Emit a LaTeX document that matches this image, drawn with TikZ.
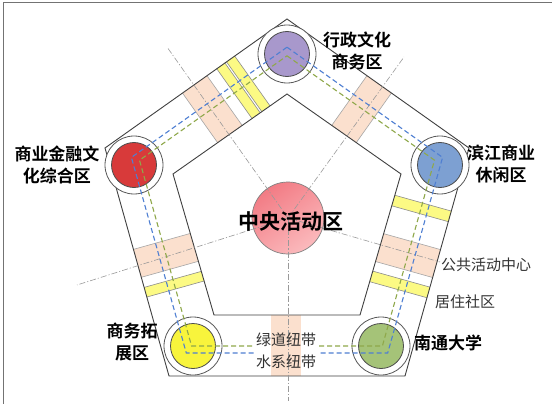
\documentclass[tikz,border=0pt]{standalone}
\usepackage{fontspec}
\newfontfamily\cjk{Noto Sans CJK SC}[BoldFont={Noto Sans CJK SC Bold}]
\usetikzlibrary{calc}
\definecolor{peach}{HTML}{FBE0CE}
\definecolor{ylw}{HTML}{FCFA84}
\definecolor{dblue}{HTML}{4F7FD2}
\definecolor{dgreen}{HTML}{8FA84A}
\definecolor{cpurple}{HTML}{A898CC}
\definecolor{cred}{HTML}{D83A3A}
\definecolor{cblue}{HTML}{7DA0D2}
\definecolor{cyellow}{HTML}{F8F43C}
\definecolor{cgreen}{HTML}{A5C378}
\definecolor{pkdark}{HTML}{F27B84}
\definecolor{pklight}{HTML}{FBBABD}
% band across the ring: style, vertex x, vertex y, unit dir x, unit dir y, position s, width w
\newcommand\myband[7]{%
  \pgfmathsetmacro\bsa{#6-#7/2}\pgfmathsetmacro\bsb{#6+#7/2}%
  \filldraw[#1] ({#2+\bsa*(#4)+10*(#5)},{#3+\bsa*(#5)-10*(#4)}) --
    ({#2+\bsb*(#4)+10*(#5)},{#3+\bsb*(#5)-10*(#4)}) --
    ({#2+\bsb*(#4)-90*(#5)},{#3+\bsb*(#5)+90*(#4)}) --
    ({#2+\bsa*(#4)-90*(#5)},{#3+\bsa*(#5)+90*(#4)}) -- cycle;}
\begin{document}
\begin{tikzpicture}[x=1pt,y=-1pt,
  ring/.style={draw=black!75, line width=0.9pt},
  pband/.style={fill=peach, draw=black!35, line width=0.6pt},
  yband/.style={fill=ylw, draw=black!45, line width=0.6pt},
  bluepath/.style={draw=dblue, line width=1.1pt, dash pattern=on 5pt off 3pt},
  greenpath/.style={draw=dgreen, line width=1.1pt, dash pattern=on 5pt off 3pt},
  radial/.style={draw=black!40, line width=0.6pt, dash pattern=on 6pt off 2pt on 1.2pt off 2pt},
  zone/.style={circle, draw=black!65, line width=0.8pt, fill=white, minimum size=58pt, inner sep=0pt},
  core/.style={circle, draw=black!70, line width=0.8pt, minimum size=45pt, inner sep=0pt},
  blab/.style={font=\cjk\bfseries\fontsize{17}{22}\selectfont, align=center, inner sep=0pt},
  nlab/.style={font=\cjk\fontsize{15}{18}\selectfont, text=black!80, inner sep=0pt}]
\useasboundingbox (0,0) rectangle (552,404);
\fill[white] (0,0) rectangle (552,404);
\draw[black!55, line width=1pt] (3,404) -- (3,3) -- (552,3);

\coordinate (oT) at (287,19);
\coordinate (oR) at (469,148);
\coordinate (oBR) at (405,376);
\coordinate (oBL) at (169,376);
\coordinate (oL) at (105,148);
\coordinate (iT) at (287,94);
\coordinate (iR) at (401,174);
\coordinate (iBR) at (360,315);
\coordinate (iBL) at (214,315);
\coordinate (iL) at (173,174);

% bands across the ring
\begin{scope}
\clip (oT) -- (oR) -- (oBR) -- (oBL) -- (oL) -- cycle;
\myband{pband}{287}{19}{0.816}{0.578}{113}{30}
\myband{yband}{469}{148}{-0.270}{0.963}{71}{11}
\myband{pband}{469}{148}{-0.270}{0.963}{120}{29}
\myband{yband}{469}{148}{-0.270}{0.963}{150}{11}
\myband{pband}{169}{376}{-0.270}{-0.963}{117}{29}
\myband{yband}{169}{376}{-0.270}{-0.963}{87}{10}
\myband{pband}{105}{148}{0.816}{-0.578}{110}{30}
\myband{yband}{105}{148}{0.816}{-0.578}{142}{10}
\myband{yband}{105}{148}{0.816}{-0.578}{154}{10}
\fill[peach] (271,315) rectangle (301,376);
\end{scope}

% pentagons
\filldraw[ring, fill=white] (iT) -- (iR) -- (iBR) -- (iBL) -- (iL) -- cycle;
\draw[ring] (oT) -- (oR) -- (oBR) -- (oBL) -- (oL) -- cycle;

% central zone and radial axes
\shade[top color=pkdark, bottom color=pklight, shading angle=35] (288,218) circle (36);
\node[circle, draw=black!50, line width=0.7pt, minimum size=72pt, inner sep=0pt] (c) at (288,218) {};
\coordinate (rUL) at (167,47);
\coordinate (rUR) at (404,57);
\coordinate (rL) at (77,285);
\coordinate (rR) at (440,262);
\coordinate (rB) at (288,401);
\foreach \e in {rUL,rUR,rL,rR,rB} \draw[radial] (c.center) -- (\e);

% corner zones
\node[zone] (zT) at (287,54) {};
\node[zone] (zR) at (440,165) {};
\node[zone] (zBR) at (381,346) {};
\node[zone] (zBL) at (193,346) {};
\node[zone] (zL) at (134,165) {};
\node[core, fill=cpurple] (kT) at (zT) {};
\node[core, fill=cblue] (kR) at (zR) {};
\node[core, fill=cgreen] (kBR) at (zBR) {};
\node[core, fill=cyellow] (kBL) at (zBL) {};
\node[core, fill=cred] (kL) at (zL) {};

% ring paths: water (blue) and greenway (green)
\coordinate (bT) at (287,47.2);
\coordinate (bR) at (442.6,157.4);
\coordinate (bBR) at (387.7,353);
\coordinate (bBL) at (186.3,353);
\coordinate (bL) at (131.4,157.4);
\coordinate (gT) at (287,55.8);
\coordinate (gR) at (434.5,160.2);
\coordinate (gBR) at (382.4,346);
\coordinate (gBL) at (191.6,346);
\coordinate (gL) at (139.5,160.2);
\draw[bluepath] (bT) -- (bR) -- (bBR) -- (bBL) -- (bL) -- cycle;
\draw[greenpath] (gT) -- (gR) -- (gBR) -- (gBL) -- (gL) -- cycle;

% bottom label block
\fill[white] (254,330) rectangle (319,373);
\fill[peach] (271,330) rectangle (301,373);
\draw[radial] (c.center) -- (rB);
\node[nlab] (lgreen) at (286,340) {绿道纽带};
\node[nlab] (lwater) at (286,362) {水系纽带};

% labels
\node[font=\cjk\bfseries\fontsize{21}{24}\selectfont, inner sep=0pt] (lcore) at (291,222) {中央活动区};
\node[blab] (lTop) at (357,51) {行政文化\\商务区};
\node[blab] (lUL) at (57,165) {商业金融文\\化综合区};
\node[blab] (lUR) at (501,164) {滨江商业\\休闲区};
\node[blab] (lBL) at (132,342) {商务拓\\展区};
\node[blab] (lBR) at (448,343) {南通大学};
\node[nlab] (lpub) at (486,265) {公共活动中心};
\node[nlab] (lres) at (465,302) {居住社区};
\end{tikzpicture}
\end{document}
